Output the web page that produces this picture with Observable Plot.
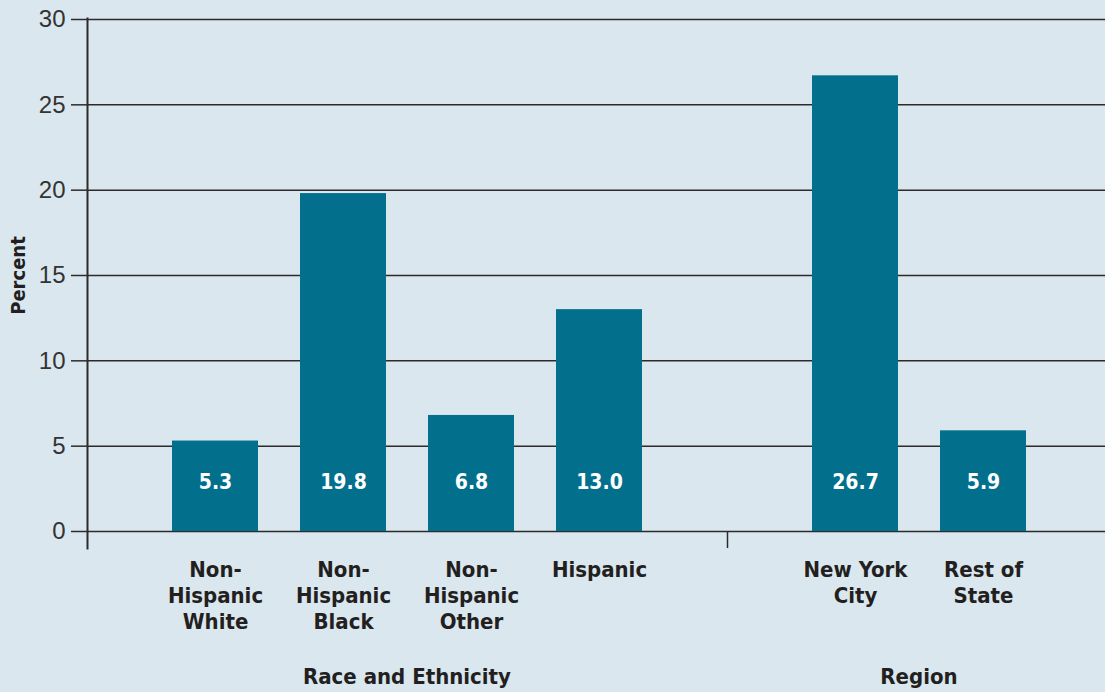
<!DOCTYPE html>
<html><head><meta charset="utf-8">
<script src="https://cdn.jsdelivr.net/npm/d3@7"></script>
<script src="https://cdn.jsdelivr.net/npm/@observablehq/plot@0.6"></script>
<style>
html,body{margin:0;padding:0;background:#dae7ef;}
svg{display:block;}
</style></head><body><div id="chart"></div>
<script>
const categories = ["Non-Hispanic White","Non-Hispanic Black","Non-Hispanic Other","Hispanic","gap","New York City","Rest of State"];
const tickLabels = ["Non-\nHispanic\nWhite","Non-\nHispanic\nBlack","Non-\nHispanic\nOther","Hispanic","","New York\nCity","Rest of\nState"];
const barCategories = ["Non-Hispanic White","Non-Hispanic Black","Non-Hispanic Other","Hispanic","New York City","Rest of State"];
const values = [5.3,19.8,6.8,13.0,26.7,5.9];
const groupNames = ["Race and Ethnicity","Region"];
const groupMembers = [["Non-Hispanic White","Non-Hispanic Black","Non-Hispanic Other","Hispanic"],["New York City","Rest of State"]];
const yTicks = [0,5,10,15,20,25,30];
const separators = ["gap"];

const bars = barCategories.map((c,i) => ({cat:c, value:values[i]}));
const boldFont = "'Liberation Sans Narrow','DejaVu Sans Condensed',Roboto,sans-serif";
const lineColor = "#2b2b2b";

const plot = Plot.plot({
  width: 1105, height: 692,
  marginLeft: 87, marginRight: 0, marginTop: 19, marginBottom: 161,
  style: {background: "#dae7ef", fontFamily: "'Liberation Sans',Arial,sans-serif", color: "#333"},
  x: {domain: categories, insetLeft: 64, insetRight: 58, paddingInner: 0.328, paddingOuter: 0.164},
  y: {domain: [0, 30]},
  marks: [
    Plot.gridY(yTicks, {stroke: lineColor, strokeOpacity: 1, strokeWidth: 1.5}),
    Plot.barY(bars, {x: "cat", y: "value", fill: "#02708c"}),
    Plot.text(bars, {x: "cat", y: 0, dy: -49, text: d => d3.format(".1f")(d.value), fill: "white",
      fontWeight: "bold", fontSize: 21, fontFamily: boldFont}),
    Plot.ruleX(separators, {y1: 0, y2: -1, stroke: lineColor, strokeWidth: 1.5}),
    Plot.frame({anchor: "left", insetBottom: -17, insetTop: -1, stroke: lineColor, strokeWidth: 2}),
    Plot.axisY(yTicks, {tickSize: 16, tickPadding: 6, fontSize: 24, label: null, stroke: lineColor, strokeWidth: 1.5, fill: "#333"}),
    Plot.axisX({tickSize: 0, tickPadding: 27, label: null, fontSize: 22, fontWeight: "bold", fontFamily: boldFont,
      lineHeight: 1.18, fill: "#231f20", tickFormat: d => tickLabels[categories.indexOf(d)]}),
    Plot.text(["Percent"], {frameAnchor: "left", dx: -69, rotate: -90, textAnchor: "middle", text: d => d, fontSize: 20,
      fontWeight: "bold", fontFamily: boldFont, fill: "#231f20"})
  ]
});

const xs = plot.scale("x");
const svg = d3.select(plot.tagName === "svg" ? plot : plot.querySelector("svg"));
groupNames.forEach((name, i) => {
  const cx = d3.mean(groupMembers[i], m => xs.apply(m) + xs.bandwidth / 2);
  svg.append("text")
    .attr("x", cx).attr("y", 684)
    .attr("text-anchor", "middle")
    .attr("font-family", boldFont).attr("font-weight", "bold").attr("font-size", 22)
    .attr("fill", "#231f20")
    .text(name);
});
document.getElementById("chart").append(plot);
</script></body></html>
